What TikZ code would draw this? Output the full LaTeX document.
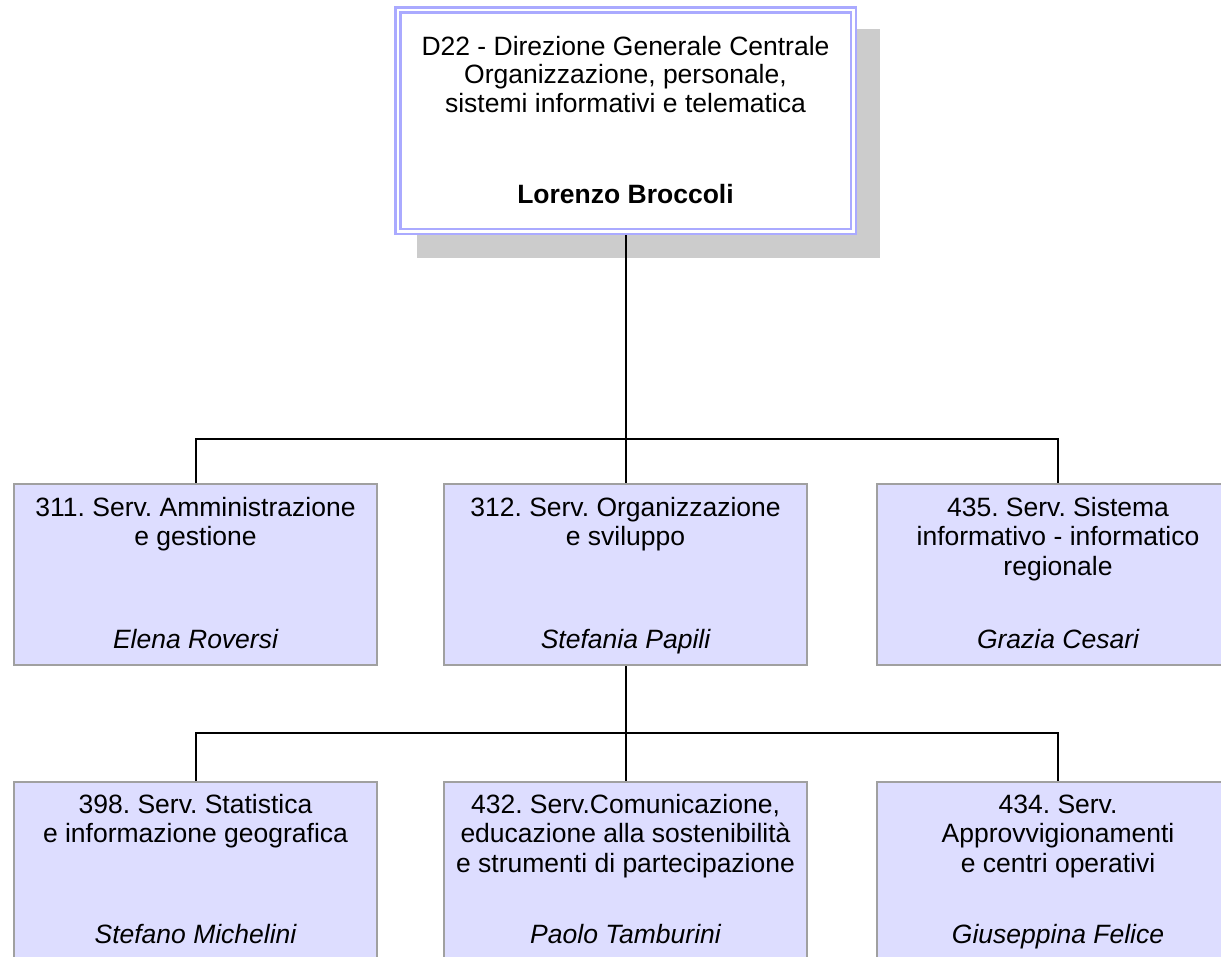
\documentclass[tikz,border=0pt]{standalone}
\usepackage{fontspec}
\setmainfont{Liberation Sans}
\usetikzlibrary{positioning, backgrounds}
\definecolor{unitfill}{RGB}{221,221,255}
\definecolor{unitdraw}{RGB}{160,160,160}
\definecolor{headdraw}{RGB}{170,170,255}
\definecolor{shadowgray}{RGB}{204,204,204}
\newcommand{\orgfont}{\fontsize{26.5}{29.5}\selectfont}
\frenchspacing

\begin{document}
\begin{tikzpicture}[x=1pt, y=-1pt,
		unitbox/.style={draw=unitdraw, fill=unitfill, line width=2pt, inner sep=0pt, minimum width=363pt, minimum height=181pt},
		headbox/.style={draw=headdraw, fill=white, double=white, line width=2.5pt, double distance=2.5pt, outer sep=3.75pt, inner sep=0pt, minimum width=455.5pt, minimum height=221.5pt},
		unittitle/.style={anchor=north, inner sep=0pt, align=center, font=\orgfont},
		unitname/.style={anchor=base, inner sep=0pt, font=\orgfont\itshape},
		link/.style={line width=2pt}]
	\useasboundingbox (0,0) rectangle (1221,956);
	\clip (0,0) rectangle (1221,956);

	\node[headbox] (dg) at (625.5,120.5) {};
	\begin{scope}[on background layer]
		\fill[shadowgray] ([shift={(22.5,22.5)}]dg.north west) rectangle ([shift={(22.5,22.5)}]dg.south east);
	\end{scope}
	\node[unittitle, font=\fontsize{26.5}{28.5}\selectfont, below=29pt of dg.north] (dgtitle) {\rule{0pt}{20pt}D22 - Direzione Generale Centrale\\Organizzazione, personale,\\sistemi informativi e telematica};
	\node[unitname, font=\orgfont\bfseries] (dgname) at (625.5,203) {Lorenzo Broccoli};

	\node[unitbox] (s311) at (195.5,574.5) {};
	\node[unitbox] (s312) at (625.5,574.5) {};
	\node[unitbox] (s435) at (1058,574.5) {};
	\node[unitbox] (s398) at (195.5,872.5) {};
	\node[unitbox] (s432) at (625.5,872.5) {};
	\node[unitbox] (s434) at (1058,872.5) {};

	\node[unittitle, below=13pt of s311.north] (t311) {\rule{0pt}{20pt}311. Serv. Amministrazione\\e gestione};
	\node[unittitle, below=13pt of s312.north] (t312) {\rule{0pt}{20pt}312. Serv. Organizzazione\\e sviluppo};
	\node[unittitle, below=13pt of s435.north] (t435) {\rule{0pt}{20pt}435. Serv. Sistema\\informativo - informatico\\regionale};
	\node[unittitle, below=12pt of s398.north] (t398) {\rule{0pt}{20pt}398. Serv. Statistica\\e informazione geografica};
	\node[unittitle, below=12pt of s432.north] (t432) {\rule{0pt}{20pt}432. Serv.Comunicazione,\\educazione alla sostenibilità\\e strumenti di partecipazione};
	\node[unittitle, below=12pt of s434.north] (t434) {\rule{0pt}{20pt}434. Serv.\\Approvvigionamenti\\e centri operativi};

	\node[unitname] (n311) at (195.5,648) {Elena Roversi};
	\node[unitname] (n312) at (625.5,648) {Stefania Papili};
	\node[unitname] (n435) at (1058,648) {Grazia Cesari};
	\node[unitname] (n398) at (195.5,943) {Stefano Michelini};
	\node[unitname] (n432) at (625.5,943) {Paolo Tamburini};
	\node[unitname] (n434) at (1058,943) {Giuseppina Felice};

	\coordinate (bus1) at (625.5,439);
	\coordinate (bus2) at (625.5,733);
	\draw[link] (dg.south) -- (bus1) -- (s312.north);
	\draw[link] (s311.north) |- (bus1) -| (s435.north);
	\draw[link] (s312.south) -- (bus2) -- (s432.north);
	\draw[link] (s398.north) |- (bus2) -| (s434.north);
\end{tikzpicture}
\end{document}
